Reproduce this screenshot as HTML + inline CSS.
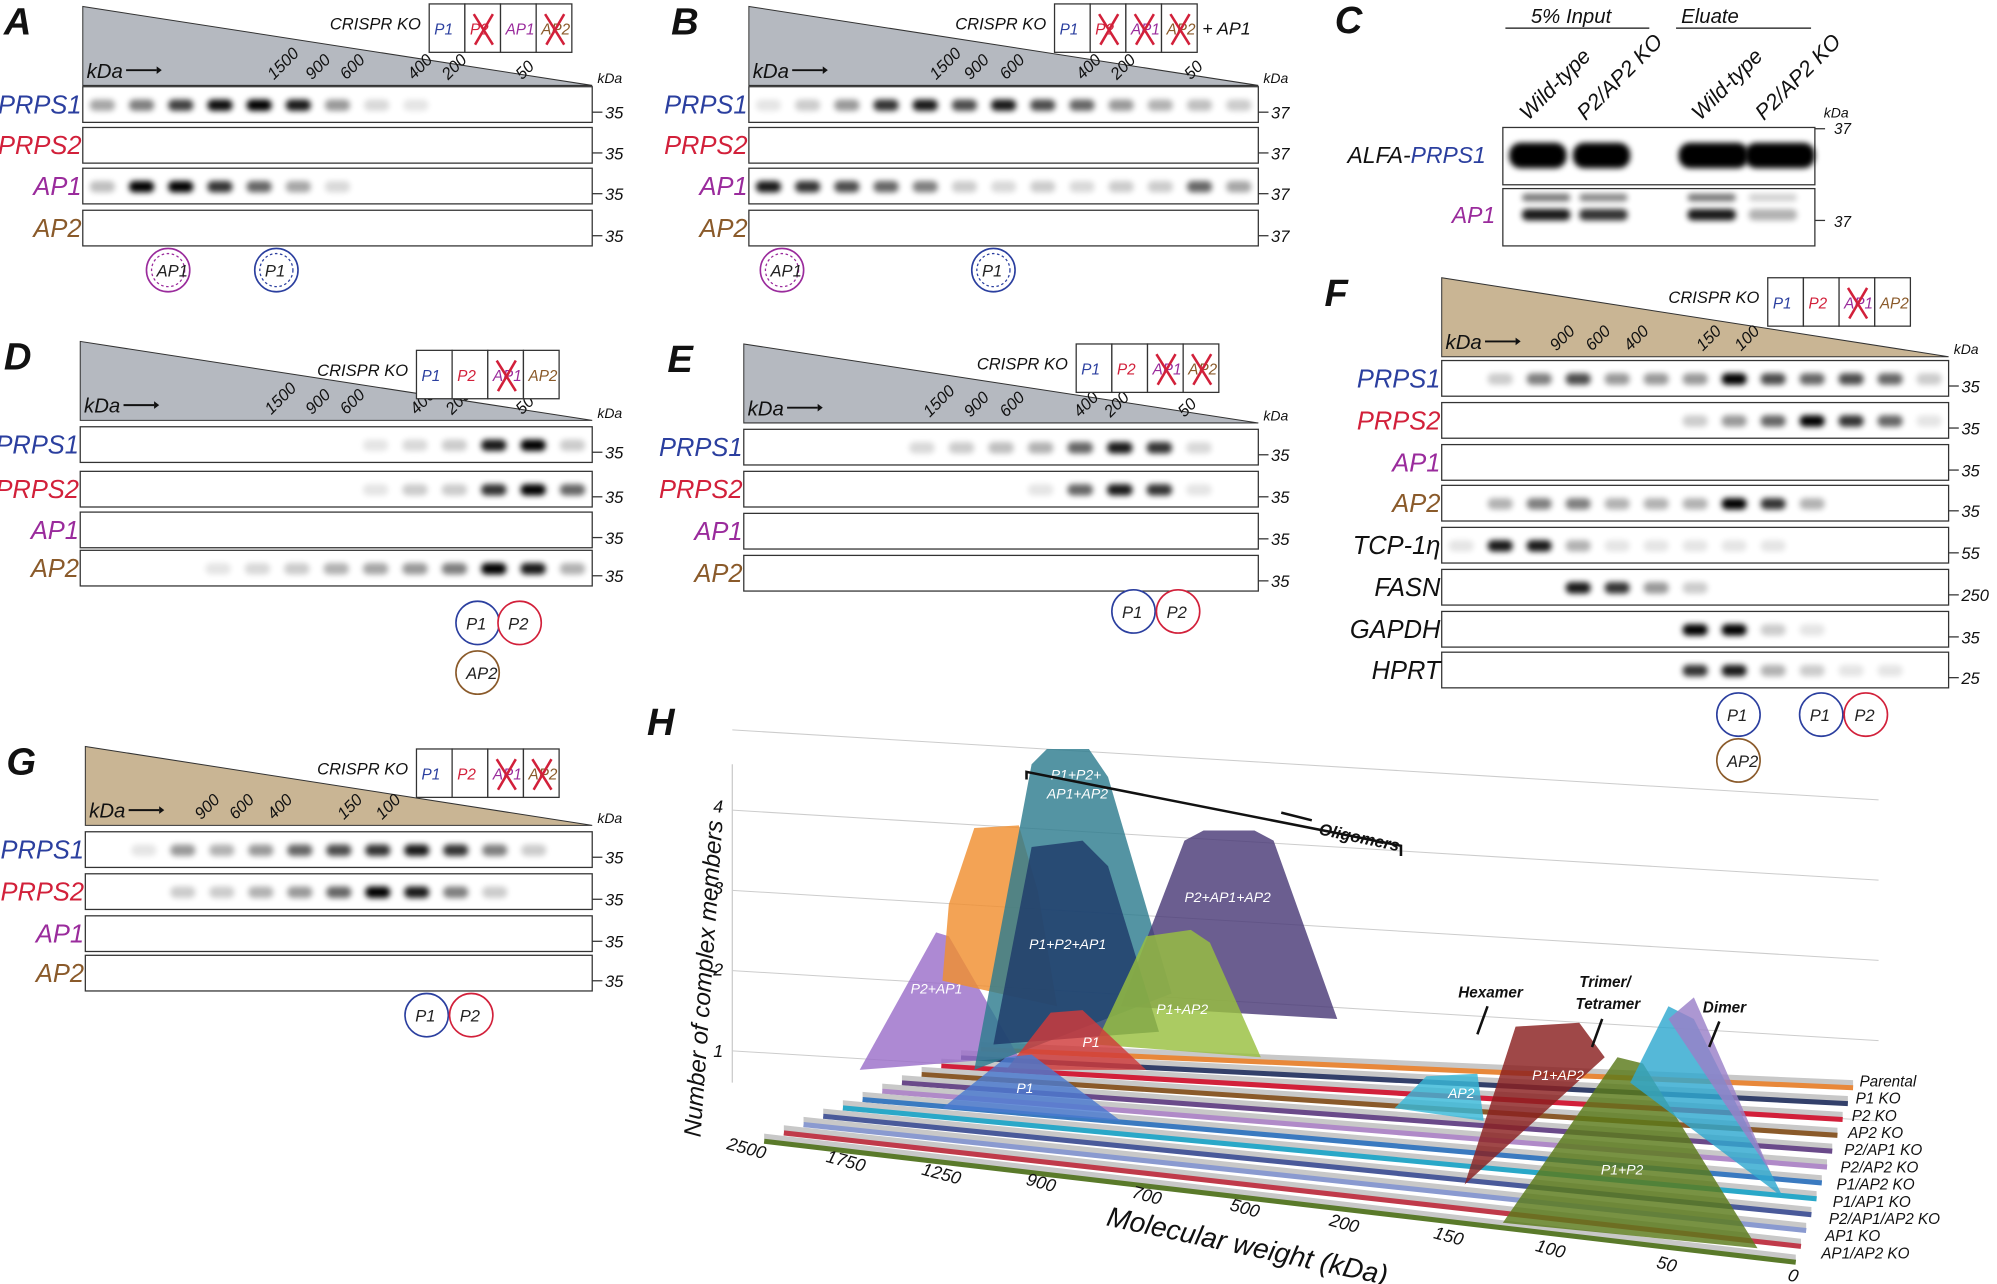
<!DOCTYPE html>
<html><head><meta charset="utf-8"><style>
html,body{margin:0;padding:0;background:#fff;}
svg{display:block;font-family:"Liberation Sans",sans-serif;}
</style></head><body>
<svg id="s" width="1997" height="1284" viewBox="0 0 1568 1008" xmlns="http://www.w3.org/2000/svg">
<defs><filter id="bl" x="-50%" y="-50%" width="200%" height="200%"><feGaussianBlur stdDeviation="2.2"/></filter></defs>
</svg>
<script>
const S=document.getElementById('s');let h='';
const C={PRPS1:'#2b3f9f',PRPS2:'#d2203a',AP1:'#9a2b9c',AP2:'#8a5a2a',k:'#222'};
function t(x,y,s,sz,col,extra){h+=`<text x="${x}" y="${y}" font-size="${sz}" fill="${col||'#111'}" font-style="italic" ${extra||''}>${s}</text>`;}
function panel(L,x0,x1,ty,by,tri,rows,mk,lanes,marks,bands,koX,koY,ko,plus,lx){
 h+=`<polygon points="${x0},${ty} ${x0},${by} ${x1},${by}" fill="${tri}" stroke="#333" stroke-width="0.8"/>`;
 h+=`<text x="${lx!==undefined?lx:x0-60}" y="${ty+22}" font-size="30" font-weight="bold" font-style="italic" fill="#111">${L}</text>`;
 t(x0+3,by-6,'kDa',16,'#111');
 h+=`<line x1="${x0+34}" y1="${by-12}" x2="${x0+58}" y2="${by-12}" stroke="#111" stroke-width="1.5"/><polygon points="${x0+58},${by-15} ${x0+62},${by-12} ${x0+58},${by-9}" fill="#111"/>`;
 marks.forEach(m=>t(m[0],by-4,m[1],13,'#111',`transform="rotate(-45 ${m[0]} ${by-4})"`));
 t(x1+4,by-2,'kDa',11,'#111');
 let bx=koX,bw=28;
 t(bx-78,koY+20,'CRISPR KO',13,'#111');
 ['P1','P2','AP1','AP2'].forEach((n,i)=>{let cc=[C.PRPS1,C.PRPS2,C.AP1,C.AP2][i];
  h+=`<rect x="${bx+i*bw}" y="${koY}" width="${bw}" height="38" fill="#fff" stroke="#333"/>`;
  t(bx+i*bw+4,koY+24,n,12,cc);
  if(ko[i])h+=`<path d="M${bx+i*bw+7},${koY+8} L${bx+i*bw+22},${koY+32} M${bx+i*bw+22},${koY+8} L${bx+i*bw+8},${koY+32}" stroke="#d2203a" stroke-width="2"/>`;});
 if(plus)t(bx+4*bw+4,koY+24,plus,14,'#111','font-style="normal"');
 rows.forEach((r,ri)=>{let[y,n]=r;
  h+=`<rect x="${x0}" y="${y}" width="${x1-x0}" height="28" fill="#fff" stroke="#333" stroke-width="1"/>`;
  t(x0-1,y+21,n,20,C[n]||'#111','text-anchor="end"');
  h+=`<line x1="${x1}" y1="${y+20}" x2="${x1+8}" y2="${y+20}" stroke="#333"/>`;
  t(x1+10,y+25,mk[ri]||mk[0],13,'#111');
  (bands[ri]||[]).forEach((v,li)=>{if(v>0){let w=(x1-x0)/lanes;
   h+=`<rect x="${x0+li*w+w*0.18}" y="${y+10}" width="${w*0.64}" height="9" rx="4" fill="#000" opacity="${v}" filter="url(#bl)"/>`;}});
 });
}
function circ(x,y,l,c,d){h+=`<circle cx="${x}" cy="${y}" r="17" fill="#fff" stroke="${c}" stroke-width="1.3"/>`;if(d)h+=`<circle cx="${x}" cy="${y}" r="13" fill="none" stroke="${c}" stroke-dasharray="2 2"/>`;t(x-9,y+5,l,13,'#222');}
const G='#b5b9c0',T='#c9b594';
panel('A',65,465,5,67,G,[[68,'PRPS1'],[100,'PRPS2'],[132,'AP1'],[165,'AP2']],['35'],13,[[215,'1500'],[245,'900'],[272,'600'],[325,'400'],[352,'200'],[410,'50']],
 [[.35,.5,.75,.95,1,.9,.4,.15,.1],[],[.25,1,1,.8,.6,.35,.15],[]],337,3,[0,1,0,1],null,3);
circ(132,212,'AP1',C.AP1,1);circ(217,212,'P1',C.PRPS1,1);
panel('B',588,988,5,67,G,[[68,'PRPS1'],[100,'PRPS2'],[132,'AP1'],[165,'AP2']],['37'],13,[[735,'1500'],[762,'900'],[790,'600'],[850,'400'],[877,'200'],[935,'50']],
 [[.1,.2,.4,.8,.9,.7,.9,.7,.6,.4,.3,.25,.2],[],[.9,.8,.7,.6,.5,.2,.15,.2,.15,.2,.2,.6,.35],[]],828,3,[0,1,1,1],'+ AP1',527);
circ(614,212,'AP1',C.AP1,1);circ(780,212,'P1',C.PRPS1,1);
h+=`<text x="1048" y="26" font-size="30" font-weight="bold" font-style="italic" fill="#111">C</text>`;
t(1202,18,'5% Input',16,'#111');t(1320,18,'Eluate',16,'#111');
h+=`<line x1="1182" y1="22" x2="1295" y2="22" stroke="#111"/><line x1="1316" y1="22" x2="1422" y2="22" stroke="#111"/>`;
[['Wild-type',1200],['P2/AP2 KO',1245],['Wild-type',1335],['P2/AP2 KO',1385]].forEach(a=>t(a[1],95,a[0],17,'#111',`transform="rotate(-45 ${a[1]} 95)"`));
h+=`<rect x="1180" y="100" width="245" height="45" fill="#fff" stroke="#333"/><rect x="1180" y="148" width="245" height="45" fill="#fff" stroke="#333"/>`;
t(1058,128,'ALFA-<tspan fill="'+C.PRPS1+'">PRPS1</tspan>',18,'#111');t(1140,175,'AP1',18,C.AP1);
t(1432,92,'kDa',11,'#111');t(1440,105,'37',12,'#111');t(1440,178,'37',12,'#111');
h+=`<line x1="1425" y1="101" x2="1433" y2="101" stroke="#333"/><line x1="1425" y1="173" x2="1433" y2="173" stroke="#333"/>`;
[[1185,45,1],[1235,45,1],[1318,55,1],[1370,55,1]].forEach(b=>h+=`<rect x="${b[0]}" y="112" width="${b[1]}" height="20" rx="9" fill="#000" filter="url(#bl)"/>`);
[[1195,.9],[1240,.8],[1325,.9],[1373,.3]].forEach(b=>h+=`<rect x="${b[0]}" y="164" width="38" height="9" rx="4" fill="#000" opacity="${b[1]}" filter="url(#bl)"/><rect x="${b[0]}" y="152" width="38" height="6" rx="3" fill="#000" opacity="${b[1]*.6}" filter="url(#bl)"/>`);
panel('D',63,465,268,330,G,[[335,'PRPS1'],[370,'PRPS2'],[402,'AP1'],[432,'AP2']],['35'],13,[[213,'1500'],[245,'900'],[272,'600'],[327,'400'],[355,'200'],[410,'50']],
 [[0,0,0,0,0,0,0,.1,.15,.2,.9,1,.2],[0,0,0,0,0,0,0,.1,.2,.2,.8,1,.6],[],[0,0,0,.1,.15,.2,.3,.35,.4,.5,1,.9,.3]],327,275,[0,0,1,0],null,3);
circ(375,489,'P1',C.PRPS1);circ(408,489,'P2',C.PRPS2);circ(375,528,'AP2',C.AP2);
panel('E',584,988,270,332,G,[[337,'PRPS1'],[370,'PRPS2'],[403,'AP1'],[436,'AP2']],['35'],13,[[730,'1500'],[762,'900'],[790,'600'],[848,'400'],[872,'200'],[930,'50']],
 [[0,0,0,0,.15,.2,.25,.3,.6,.9,.8,.15],[0,0,0,0,0,0,0,.1,.6,.9,.8,.1],[],[]],845,270,[0,0,1,1],null,524);
circ(890,480,'P1',C.PRPS1);circ(925,480,'P2',C.PRPS2);
panel('F',1132,1530,218,280,T,[[283,'PRPS1'],[316,'PRPS2'],[349,'AP1'],[381,'AP2'],[414,'TCP-1η'],[447,'FASN'],[480,'GAPDH'],[512,'HPRT']],['35','35','35','35','55','250','35','25'],13,[[1222,'900'],[1250,'600'],[1280,'400'],[1337,'150'],[1367,'100']],
 [[0,.2,.5,.7,.4,.4,.4,1,.7,.6,.7,.6,.2],[0,0,0,0,0,0,.2,.4,.6,1,.8,.6,.1],[],[0,.3,.5,.5,.3,.3,.3,1,.8,.3],[.1,.9,.9,.3,.1,.1,.1,.1,.1],[0,0,0,.9,.8,.4,.2],[0,0,0,0,0,0,1,1,.2,.1],[0,0,0,0,0,0,.8,.9,.3,.2,.1,.1]],1388,218,[0,0,1,0],null,1040);
circ(1365,561,'P1',C.PRPS1);circ(1430,561,'P1',C.PRPS1);circ(1465,561,'P2',C.PRPS2);circ(1365,597,'AP2',C.AP2);
panel('G',67,465,586,648,T,[[653,'PRPS1'],[686,'PRPS2'],[719,'AP1'],[750,'AP2']],['35'],13,[[158,'900'],[185,'600'],[215,'400'],[270,'150'],[300,'100']],
 [[0,.1,.4,.3,.4,.6,.7,.8,.9,.8,.5,.2],[0,0,.2,.2,.3,.4,.6,1,.9,.5,.2],[],[]],327,588,[0,0,1,1],null,5);
circ(335,797,'P1',C.PRPS1);circ(370,797,'P2',C.PRPS2);
h+=`<text x="508" y="577" font-size="30" font-weight="bold" font-style="italic" fill="#111">H</text>`;
for(let i=0;i<5;i++){let y=840-i*63;h+=`<line x1="575" y1="${y-15}" x2="1475" y2="${y+40}" stroke="#ccc" stroke-width="0.8"/>`;}
h+=`<line x1="575" y1="600" x2="575" y2="850" stroke="#ccc"/>`;
['1','2','3','4'].forEach((s,i)=>t(560,830-i*64,s,14,'#111'));
t(550,893,'Number of complex members',19,'#111','transform="rotate(-86 550 893)"');
const cols=['#e8883a','#33406a','#d2203a','#8a5a2a','#6a4a8a','#b08ac8','#3a7ac0','#2aa8c8','#4a5a9a','#8a9ad0','#c03a4a','#5a7a2a'];
for(let i=0;i<12;i++){let f=i/11;let lx=770-170*f,ly=818+72*f,rx=1455-45*f,ry=848+137*f;
 h+=`<polygon points="${lx},${ly} ${rx},${ry} ${rx},${ry+5} ${lx},${ly+5}" fill="#c8c8c8"/><line x1="${lx}" y1="${ly+6}" x2="${rx}" y2="${ry+6}" stroke="${cols[i]}" stroke-width="4"/>`;}
const peaks=[
['#9b6fc9','675,840 735,732 745,735 800,830','P2+AP1',715,780],
['#f08f30','740,770 745,710 765,650 800,648 815,700 830,790','',0,0],
['#2e7d8f','765,840 810,600 822,588 855,588 870,610 920,780','P1+P2+',825,612],
['#4a3a78','880,790 930,660 945,652 985,652 1000,660 1050,800','P2+AP1+AP2',930,708],
['#1f3a6a','780,820 810,665 850,660 870,680 910,810','P1+P2+AP1',808,745],
['#98c040','860,820 900,735 935,730 950,740 990,830','P1+AP2',908,796],
['#d03a3a','790,840 825,795 850,793 900,840','P1',850,822],
['#4a7ad0','740,870 790,830 810,828 880,880','P1',798,858],
['#38b8d8','1095,870 1120,845 1160,843 1165,880','AP2',1137,862],
['#8a2020','1150,930 1190,806 1240,803 1260,830','P1+AP2',1203,848],
['#5a7a1a','1180,960 1270,830 1290,835 1380,980','P1+P2',1257,922],
['#30a8d0','1280,850 1310,790 1330,800 1400,940','',0,0],
['#9a80c8','1310,800 1330,783 1390,920','',0,0]];
peaks.forEach(p=>{h+=`<polygon points="${p[1]}" fill="${p[0]}" opacity="0.82"/>`;if(p[2])t(p[3],p[4],p[2],11,'#fff');});
t(822,627,'AP1+AP2',11,'#fff');
h+=`<polyline points="806,612 806,606 1100,664 1100,672" fill="none" stroke="#111" stroke-width="2"/>`;
t(1035,655,'Oligomers',13,'#111','font-weight="bold" transform="rotate(12 1035 655)"');
h+=`<line x1="1030" y1="644" x2="1006" y2="638" stroke="#111" stroke-width="2"/>`;
t(1145,783,'Hexamer',12,'#111','font-weight="bold"');t(1240,775,'Trimer/',12,'#111','font-weight="bold"');t(1237,792,'Tetramer',12,'#111','font-weight="bold"');t(1337,795,'Dimer',12,'#111','font-weight="bold"');
h+=`<line x1="1168" y1="790" x2="1160" y2="812" stroke="#111" stroke-width="2"/><line x1="1258" y1="800" x2="1250" y2="822" stroke="#111" stroke-width="2"/><line x1="1350" y1="802" x2="1342" y2="822" stroke="#111" stroke-width="2"/>`;
['Parental','P1 KO','P2 KO','AP2 KO','P2/AP1 KO','P2/AP2 KO','P1/AP2 KO','P1/AP1 KO','P2/AP1/AP2 KO','AP1 KO','AP1/AP2 KO'].forEach((s,i)=>t(1460-i*3,853+i*13.5,s,12,'#111','font-style="normal"'));
[['2500',570,902],['1750',648,912],['1250',723,922],['900',805,930],['700',888,940],['500',965,950],['200',1043,962],['150',1125,972],['100',1205,982],['50',1300,995],['0',1403,1005]].forEach(a=>t(a[1],a[2],a[0],14,'#111',`transform="rotate(15 ${a[1]} ${a[2]})"`));
t(868,962,'Molecular weight (kDa)',22,'#111','transform="rotate(12 868 962)"');
S.insertAdjacentHTML('beforeend',h);
</script>
</body></html>
